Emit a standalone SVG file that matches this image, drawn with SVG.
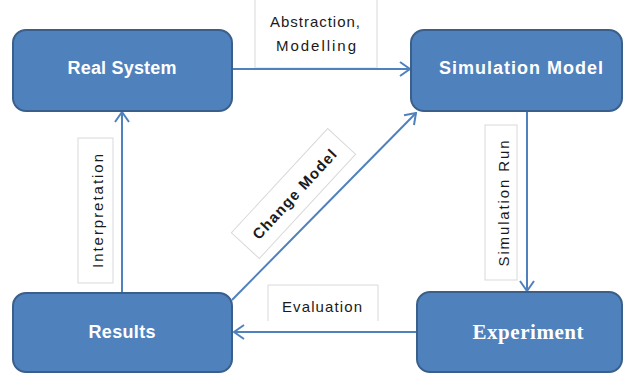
<svg xmlns="http://www.w3.org/2000/svg" width="625" height="374" viewBox="0 0 625 374">
<style>
.node rect{fill:#4F81BD;stroke:#3A5F8B;stroke-width:2}
.ntxt{fill:#ffffff;font-family:"Liberation Sans",Arial,sans-serif;font-weight:bold;font-size:18px;text-anchor:middle;dominant-baseline:central}
.serif{font-family:"Liberation Serif","Times New Roman",serif;font-size:21px}
.conn{stroke:#4F81BD;stroke-width:2;fill:none;marker-end:url(#arr)}
.lbox{fill:#ffffff;stroke:#d9d9d9;stroke-width:1}
.ltxt{fill:#1a1a1a;font-family:"Liberation Sans",Arial,sans-serif;font-size:15px;text-anchor:middle;dominant-baseline:central}
</style>
<defs>
<marker id="arr" viewBox="-1 -1 12 16" refX="10" refY="7" markerWidth="12" markerHeight="16" markerUnits="userSpaceOnUse" orient="auto">
<path d="M0,0 L10,7 L0,14" fill="none" stroke="#4F81BD" stroke-width="2"/>
</marker>
</defs>
<rect width="625" height="374" fill="#ffffff"/>
<g id="labels">
<rect class="lbox" x="255" y="-2" width="122" height="70"/>
<text class="ltxt" x="315" y="21" textLength="90" lengthAdjust="spacing">Abstraction,</text>
<text class="ltxt" x="316" y="45" textLength="80" lengthAdjust="spacing">Modelling</text>
<path class="lbox" d="M268,321 V285 H378 V321"/>
<text class="ltxt" x="322" y="306" textLength="80" lengthAdjust="spacing">Evaluation</text>
<rect class="lbox" x="78" y="138" width="35" height="145"/>
<text class="ltxt" transform="translate(97.5,211) rotate(-90)" x="0" y="0" textLength="114" lengthAdjust="spacing">Interpretation</text>
<rect class="lbox" x="485" y="125" width="32" height="155"/>
<text class="ltxt" transform="translate(503.5,203.5) rotate(-90)" x="0" y="0" textLength="126" lengthAdjust="spacing">Simulation Run</text>
<g transform="translate(293.5,193.5) rotate(-47.3)">
<rect class="lbox" x="-71" y="-19" width="142" height="38"/>
<text class="ltxt" x="0" y="1" textLength="116" lengthAdjust="spacing" style="font-weight:bold">Change Model</text>
</g>
</g>
<g id="connectors">
<line class="conn" x1="232" y1="69" x2="410" y2="69"/>
<line class="conn" x1="527" y1="111" x2="527" y2="291"/>
<line class="conn" x1="417" y1="332" x2="234" y2="332"/>
<line class="conn" x1="122" y1="293" x2="122" y2="112"/>
<line class="conn" x1="232" y1="300" x2="416" y2="113"/>
</g>
<g id="real-system" class="node">
<rect x="13" y="30" width="219" height="81" rx="13"/>
<text class="ntxt" x="122" y="68" textLength="109" lengthAdjust="spacing">Real System</text>
</g>
<g id="simulation-model" class="node">
<rect x="411" y="30" width="211" height="81" rx="13"/>
<text class="ntxt" x="521" y="68" textLength="164" lengthAdjust="spacing">Simulation Model</text>
</g>
<g id="results" class="node">
<rect x="13" y="293" width="219" height="79" rx="13"/>
<text class="ntxt" x="122" y="332" textLength="67" lengthAdjust="spacing">Results</text>
</g>
<g id="experiment" class="node">
<rect x="417" y="292" width="205" height="80" rx="13"/>
<text class="ntxt serif" x="528" y="332" textLength="111" lengthAdjust="spacing">Experiment</text>
</g>
</svg>
